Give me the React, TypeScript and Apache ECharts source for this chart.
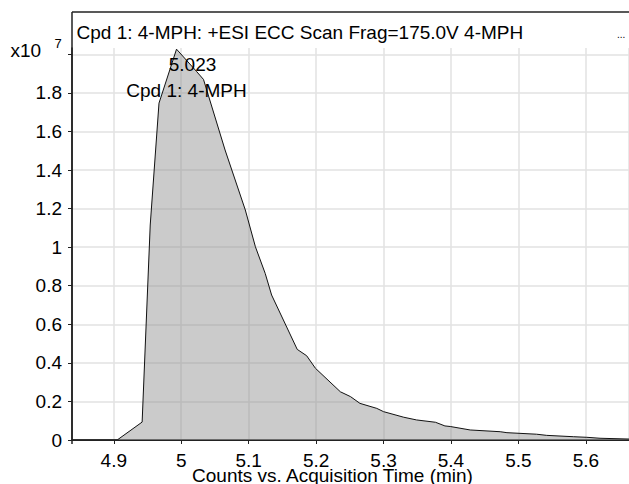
import React, { useEffect, useRef } from "react";
import * as echarts from "echarts";

// Acquisition time (min)
const times = [
  4.838, 4.905, 4.942, 4.954, 4.967, 4.993, 5.023, 5.033, 5.065, 5.095, 5.11, 5.1245,
  5.134, 5.172, 5.186, 5.199, 5.236, 5.251, 5.265, 5.29, 5.3, 5.33, 5.349, 5.377,
  5.391, 5.399, 5.4285, 5.473, 5.483, 5.527, 5.542, 5.582, 5.6015, 5.621, 5.664,
];
// Counts (x10^7)
const counts = [
  0, 0, 0.093, 1.115, 1.747, 2.027, 1.91, 1.87, 1.504, 1.193, 1.002, 0.864,
  0.752, 0.47, 0.437, 0.372, 0.25, 0.225, 0.19, 0.164, 0.147, 0.118, 0.104, 0.092,
  0.073, 0.07, 0.052, 0.043, 0.038, 0.03, 0.024, 0.017, 0.014, 0.009, 0.005,
];

const titleText = "Cpd 1: 4-MPH: +ESI ECC Scan Frag=175.0V 4-MPH";
const peakTime = "5.023";
const peakName = "Cpd 1: 4-MPH";
const xName = "Counts vs. Acquisition Time (min)";

const FONT = "'Liberation Sans', Arial, sans-serif";

export default function App() {
  const ref = useRef<HTMLDivElement>(null);
  useEffect(() => {
    if (!ref.current) return;
    const chart = echarts.init(ref.current, undefined, { renderer: "svg" });
    const fmt = (v: number) => String(Math.round(v * 10) / 10);
    chart.setOption({
      animation: false,
      textStyle: { fontFamily: FONT },
      grid: { left: 72, right: 0, top: 48, bottom: 44, outerBoundsMode: "none" },
      xAxis: {
        type: "value",
        min: 4.838,
        max: 5.664,
        splitNumber: 8,
        minInterval: 0.1,
        maxInterval: 0.1,
        offset: 3,
        axisLine: { lineStyle: { color: "#222", width: 1.5 } },
        axisTick: { length: 4, lineStyle: { color: "#222" } },
        axisLabel: {
          showMinLabel: false,
          showMaxLabel: false,
          margin: 8,
          fontSize: 19,
          color: "#000",
          fontFamily: FONT,
          formatter: fmt,
        },
        splitLine: { show: true, lineStyle: { color: "#e2e2e2", width: 1.5 } },
      },
      yAxis: {
        type: "value",
        min: 0,
        max: 2.033,
        splitNumber: 10,
        minInterval: 0.2,
        maxInterval: 0.2,
        axisLine: { show: true, lineStyle: { color: "#222", width: 1.5 } },
        axisTick: { show: true, length: 4, lineStyle: { color: "#222" } },
        axisLabel: {
          showMaxLabel: false,
          margin: 10,
          fontSize: 19,
          color: "#000",
          fontFamily: FONT,
          formatter: (v: number) => (v > 1.95 ? "" : fmt(v)),
        },
        splitLine: { show: true, showMaxLine: false, lineStyle: { color: "#e2e2e2", width: 1.5 } },
      },
      series: [
        {
          type: "line",
          data: times.map((t, i) => [t, counts[i]]),
          symbol: "none",
          lineStyle: { color: "#111", width: 1 },
          areaStyle: { color: "rgba(140,140,140,0.45)", opacity: 1, origin: "start" },
          z: 3,
          markLine: {
            silent: true,
            symbol: "none",
            label: { show: false },
            lineStyle: { color: "#222", width: 1.2, type: "solid" },
            data: [{ yAxis: 0 }],
          },
        },
      ],
      graphic: [
        { type: "line", shape: { x1: 72, y1: 12, x2: 629, y2: 12 }, style: { stroke: "#222", lineWidth: 1.5 }, z: 10 },
        { type: "line", shape: { x1: 72, y1: 12, x2: 72, y2: 444 }, style: { stroke: "#222", lineWidth: 1.5 }, z: 10 },
        {
          type: "text", x: 76.5, y: 32.5, z: 10,
          style: { text: titleText, font: `19px ${FONT}`, fill: "#000", textVerticalAlign: "middle" },
        },
        {
          type: "text", x: 617, y: 34.5, z: 10,
          style: { text: "...", font: `10px ${FONT}`, fill: "#000", textVerticalAlign: "middle" },
        },
        {
          type: "text", x: 10.5, y: 50, z: 10,
          style: { text: "x10", font: `19px ${FONT}`, fill: "#000", textVerticalAlign: "middle" },
        },
        {
          type: "text", x: 54.5, y: 43, z: 10,
          style: { text: "7", font: `13px ${FONT}`, fill: "#000", textVerticalAlign: "middle" },
        },
        {
          type: "text", x: 192.5, y: 64, z: 10,
          style: { text: peakTime, font: `19px ${FONT}`, fill: "#000", textAlign: "center", textVerticalAlign: "middle" },
        },
        {
          type: "text", x: 186.5, y: 90, z: 10,
          style: { text: peakName, font: `19px ${FONT}`, fill: "#000", textAlign: "center", textVerticalAlign: "middle" },
        },
        {
          type: "text", x: 332.5, y: 475, z: 10,
          style: { text: xName, font: `19px ${FONT}`, fill: "#000", textAlign: "center", textVerticalAlign: "middle" },
        },
      ],
    });
    return () => chart.dispose();
  }, []);
  return (
    <div
      ref={ref}
      style={{ position: "absolute", left: 0, top: 0, width: 629, height: 484, background: "#fff" }}
    />
  );
}
